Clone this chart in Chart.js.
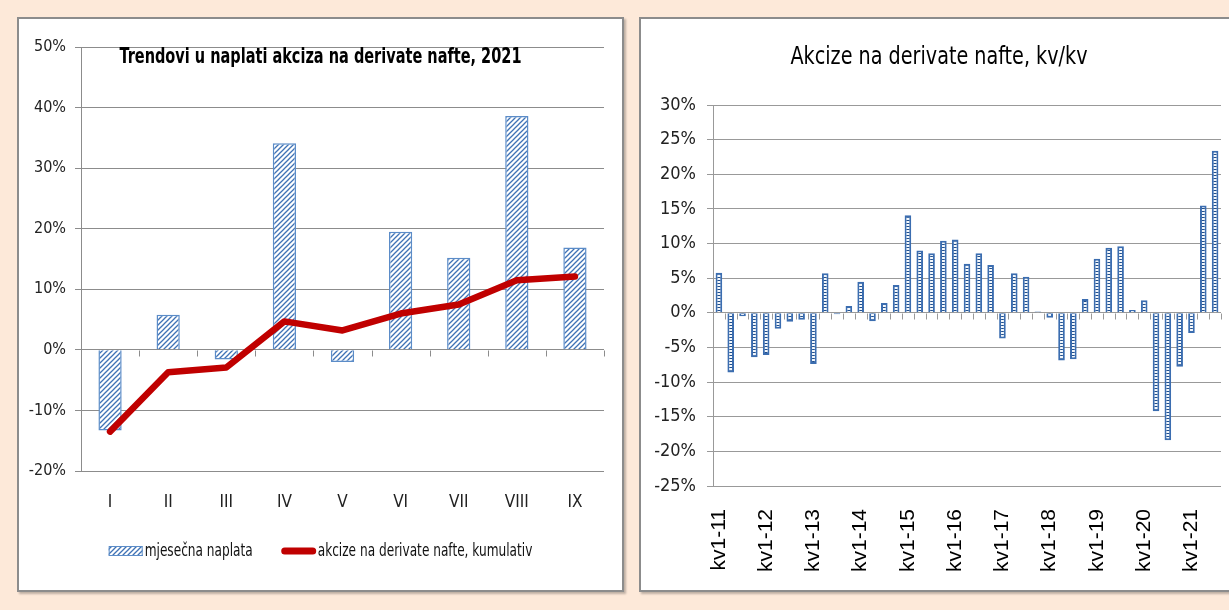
<!DOCTYPE html>
<html>
<head>
<meta charset="utf-8">
<script src="https://cdn.jsdelivr.net/npm/chart.js@4.4.1/dist/chart.umd.min.js"></script>
<style>
    html, body { margin: 0; padding: 0; }
    body { width: 1229px; height: 610px; background: #fde9d9; overflow: hidden; position: relative; }
    .panel { position: absolute; background: #fff; border: 2px solid #8c8c8c; box-sizing: border-box; box-shadow: 2px 2px 2px rgba(0,0,0,0.25); }
    #left { left: 17px; top: 17px; width: 607px; height: 575px; }
    #right { left: 639px; top: 17px; width: 600px; height: 575px; }
    .panel canvas { display: block; }
</style>
</head>
<body>
<div class="panel" id="left"><canvas id="chart-left" width="603" height="571"></canvas></div>
<div class="panel" id="right"><canvas id="chart-right" width="596" height="571"></canvas></div>

<script>
// Lijevi grafikon - mjesecna naplata i kumulativ (u %)
const months = ['I', 'II', 'III', 'IV', 'V', 'VI', 'VII', 'VIII', 'IX']
const monthly = [-13.3, 5.8, -1.6, 34.1, -2.0, 19.5, 15.2, 38.6, 16.9]
const cumulative = [-13.5, -3.7, -2.9, 4.7, 3.2, 6.0, 7.5, 11.5, 12.1]
const leftTicks = [-20, -10, 0, 10, 20, 30, 40, 50]

// Desni grafikon - kv/kv (u %)
const quarters = [
    'kv1-11', 'kv2-11', 'kv3-11', 'kv4-11', 'kv1-12', 'kv2-12', 'kv3-12', 'kv4-12',
    'kv1-13', 'kv2-13', 'kv3-13', 'kv4-13', 'kv1-14', 'kv2-14', 'kv3-14', 'kv4-14',
    'kv1-15', 'kv2-15', 'kv3-15', 'kv4-15', 'kv1-16', 'kv2-16', 'kv3-16', 'kv4-16',
    'kv1-17', 'kv2-17', 'kv3-17', 'kv4-17', 'kv1-18', 'kv2-18', 'kv3-18', 'kv4-18',
    'kv1-19', 'kv2-19', 'kv3-19', 'kv4-19', 'kv1-20', 'kv2-20', 'kv3-20', 'kv4-20',
    'kv1-21', 'kv2-21', 'kv3-21'
]
const quarterly = [
    5.8, -8.6, -0.5, -6.4, -6.1, -2.3, -1.3, -1.0, -7.4, 5.7,
    -0.2, 1.0, 4.5, -1.2, 1.4, 4.0, 14.1, 9.0, 8.6, 10.4,
    10.6, 7.1, 8.6, 6.9, -3.7, 5.7, 5.2, 0.2, -0.7, -6.9,
    -6.7, 2.0, 7.8, 9.4, 9.6, 0.4, 1.8, -14.2, -18.4, -7.8,
    -2.9, 15.5, 23.4
]
const rightTicks = [-25, -20, -15, -10, -5, 0, 5, 10, 15, 20, 25, 30]

const NARROW = "'Liberation Sans Narrow', 'DejaVu Sans Condensed', 'Arial Narrow', sans-serif"
const BLUE = '#4f81bd'
const RED = '#c00000'
const GRID = '#8c8c8c'



// Kosa srafura za mjesecne stubice
const hatchPattern = () => {
    const c = document.createElement('canvas')
    c.width = 5
    c.height = 5
    const ctx = c.getContext('2d')
    ctx.fillStyle = '#fff'
    ctx.fillRect(0, 0, 5, 5)
    ctx.strokeStyle = '#3f72b5'
    ctx.lineWidth = 1.3
    ctx.beginPath()
    ctx.moveTo(-1, 6); ctx.lineTo(6, -1)
    ctx.moveTo(-1, 1); ctx.lineTo(1, -1)
    ctx.moveTo(4, 6); ctx.lineTo(6, 4)
    ctx.stroke()
    return ctx.createPattern(c, 'repeat')
}

// "Ljestvice" - bijeli kvadratici unutar plavih stubica
const ladderPattern = () => {
    const c = document.createElement('canvas')
    c.width = 1
    c.height = 3
    const ctx = c.getContext('2d')
    ctx.fillStyle = '#1f4e8c'
    ctx.fillRect(0, 0, 1, 1)
    ctx.fillStyle = '#f4f8fc'
    ctx.fillRect(0, 1, 1, 2)
    return ctx.createPattern(c, 'repeat')
}



// Crtice na nultoj liniji, izmedju kategorija
const zeroTicks = {
    id: 'zeroTicks',
    beforeDatasetsDraw(chart, args, opts) {
        const xs = chart.scales.x
        const y0 = Math.round(chart.scales.y.getPixelForValue(0)) + 0.5
        const ctx = chart.ctx
        ctx.save()
        ctx.strokeStyle = opts.color
        ctx.lineWidth = 1
        ctx.beginPath()
        for (let i = 0; i <= chart.data.labels.length; i++) {
            const px = Math.round(xs.getPixelForValue(i - 0.5)) + 0.5
            ctx.moveTo(px, y0)
            ctx.lineTo(px, y0 + opts.length)
        }
        ctx.stroke()
        ctx.restore()
    }
}

// Naslov na zadanoj poziciji (maxWidth ga suzava kao u originalu)
const panelTitle = {
    id: 'panelTitle',
    afterDraw(chart, args, opts) {
        const ctx = chart.ctx
        ctx.save()
        ctx.font = opts.font
        ctx.fillStyle = '#000'
        ctx.textAlign = 'center'
        ctx.textBaseline = 'middle'
        ctx.fillText(opts.text, chart.width * opts.x, opts.y, opts.maxWidth)
        ctx.restore()
    }
}

// Legenda sa suzenim tekstom, kao u Excelu
const narrowLegend = {
    id: 'narrowLegend',
    afterDraw(chart, args, opts) {
        const ctx = chart.ctx
        const sets = chart.data.datasets
        ctx.save()
        ctx.font = opts.font
        const widths = sets.map(ds => ctx.measureText(ds.label).width * opts.squeeze)
        const total = widths.reduce((s, w) => s + w + opts.marker + opts.gap, 0) + opts.spacing * (sets.length - 1)
        let x = (chart.width - total) / 2
        const y = opts.y

        sets.forEach((ds, i) => {
            if (ds.type === 'line') {
                ctx.strokeStyle = ds.borderColor
                ctx.lineWidth = 7
                ctx.lineCap = 'round'
                ctx.beginPath()
                ctx.moveTo(x + 3, y)
                ctx.lineTo(x + opts.marker - 3, y)
                ctx.stroke()
            } else {
                ctx.fillStyle = ds.backgroundColor
                ctx.fillRect(x, y - 5, opts.marker, 10)
                ctx.strokeStyle = ds.borderColor
                ctx.lineWidth = 1
                ctx.strokeRect(x + 0.5, y - 4.5, opts.marker - 1, 9)
            }
            x += opts.marker + opts.gap

            ctx.save()
            ctx.translate(x, y)
            ctx.scale(opts.squeeze, 1)
            ctx.fillStyle = '#111'
            ctx.textAlign = 'left'
            ctx.textBaseline = 'middle'
            ctx.fillText(ds.label, 0, 0)
            ctx.restore()
            x += widths[i] + opts.spacing
        })
        ctx.restore()
    }
}

// Bez dodatnog razmaka koji Chart.js racuna za prvu/zadnju oznaku
const noSidePadding = s => {
    s.paddingLeft = 0
    s.paddingRight = 0
}

const pct = v => v + '%'

const leftCtx = document.getElementById('chart-left').getContext('2d')
const leftChart = new Chart(leftCtx, {
    data: {
        labels: months,
        datasets: [
            {
                type: 'bar',
                label: 'mjesečna naplata',
                data: monthly,
                backgroundColor: hatchPattern(),
                borderColor: '#5b8cc8',
                borderWidth: 1.5,
                barPercentage: 0.4,
                categoryPercentage: 1,
                order: 1
            },
            {
                type: 'line',
                label: 'akcize na derivate nafte, kumulativ',
                data: cumulative,
                borderColor: RED,
                backgroundColor: RED,
                borderWidth: 6.5,
                pointRadius: 0,
                tension: 0,
                borderCapStyle: 'round',
                borderJoinStyle: 'round',
                order: 0
            }
        ]
    },
    options: {
        responsive: false,
        animation: false,
        layout: { padding: { top: 28, right: 18, left: 0, bottom: 59 } },
        scales: {
            x: {
                grid: { display: false },
                border: { display: false },
                ticks: { color: '#222', font: { family: NARROW, size: 17 }, padding: 13 },
                afterFit: s => { s.height = 60; noSidePadding(s) }
            },
            y: {
                min: -20,
                max: 50,
                afterBuildTicks: s => { s.ticks = leftTicks.map(v => ({ value: v })) },
                grid: { color: GRID, tickLength: 6 },
                border: { color: GRID },
                ticks: { color: '#222', font: { family: NARROW, size: 16 }, padding: 9, callback: pct },
                afterFit: s => { s.width = 62 }
            }
        },
        plugins: {
            tooltip: { enabled: false },
            legend: { display: false },
            zeroTicks: { color: GRID, length: 6 },
            panelTitle: {
                text: 'Trendovi u naplati akciza na derivate nafte, 2021',
                font: 'bold 22px ' + NARROW,
                x: 0.5,
                y: 38,
                maxWidth: 402
            },
            narrowLegend: {
                font: '18px ' + NARROW,
                squeeze: 0.75,
                marker: 34,
                gap: 2,
                spacing: 29,
                y: 532
            }
        }
    },
    plugins: [zeroTicks, panelTitle, narrowLegend]
})



const rightCtx = document.getElementById('chart-right').getContext('2d')
const rightChart = new Chart(rightCtx, {
    type: 'bar',
    data: {
        labels: quarters,
        datasets: [{
            label: 'kv/kv',
            data: quarterly,
            backgroundColor: ladderPattern(),
            borderColor: '#3b6db0',
            borderWidth: 2,
            barPercentage: 0.56,
            categoryPercentage: 1
        }]
    },
    options: {
        responsive: false,
        animation: false,
        layout: { padding: { top: 86, right: 16, left: 0, bottom: 4 } },
        scales: {
            x: {
                grid: { display: false },
                border: { display: false },
                ticks: {
                    autoSkip: false,
                    minRotation: 90,
                    maxRotation: 90,
                    color: '#000',
                    font: { family: "'Liberation Sans', Arial, sans-serif", size: 21 },
                    padding: 15,
                    callback: (v, i) => i % 4 === 0 ? quarters[i] : ''
                },
                afterFit: s => { s.height = 100; noSidePadding(s) }
            },
            y: {
                min: -25,
                max: 30,
                afterBuildTicks: s => { s.ticks = rightTicks.map(v => ({ value: v })) },
                grid: { color: '#999', tickLength: 6 },
                border: { color: '#999' },
                ticks: { color: '#222', font: { family: NARROW, size: 18 }, padding: 11, callback: pct },
                afterFit: s => { s.width = 72 }
            }
        },
        plugins: {
            tooltip: { enabled: false },
            legend: { display: false },
            zeroTicks: { color: '#999', length: 6 },
            panelTitle: {
                text: 'Akcize na derivate nafte, kv/kv',
                font: '25px ' + NARROW,
                x: 0.5,
                y: 38,
                maxWidth: 297
            }
        }
    },
    plugins: [zeroTicks, panelTitle]
})
</script>
</body>
</html>
